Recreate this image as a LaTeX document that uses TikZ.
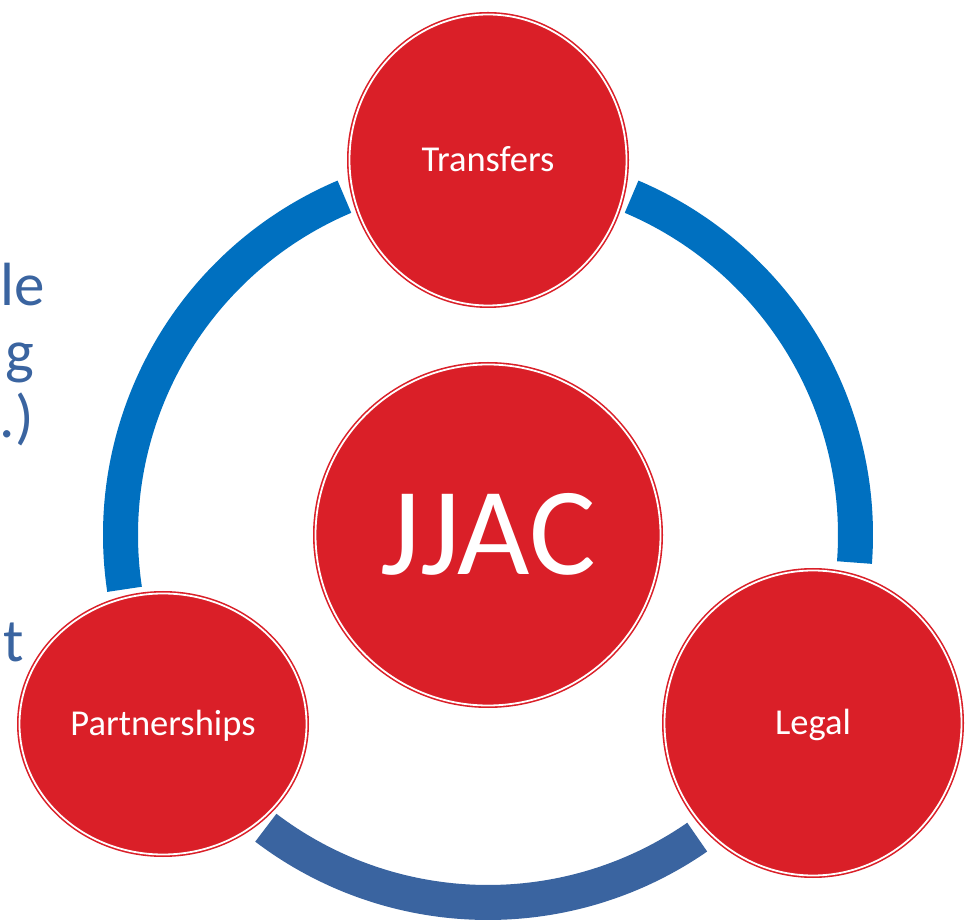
\documentclass[tikz,border=0pt]{standalone}
\usepackage{fontspec}
\setmainfont{Carlito}
\usetikzlibrary{shapes.geometric}
\definecolor{jred}{HTML}{DA1F28}
\definecolor{ringblue}{HTML}{0070C0}
\definecolor{darkblue}{HTML}{3A64A0}
\tikzset{
  bubble/.style={ellipse, fill=jred, draw=jred, double=white, line width=1.6pt,
    double distance=1.8pt, inner sep=0pt, text=white, text depth=0pt},
  smalllabel/.style={font=\fontsize{36.5}{40}\selectfont, text height=23.5pt},
  frag/.style={font=\fontsize{61}{70}\selectfont, text=darkblue, anchor=base east, inner sep=0pt}
}
\begin{document}
\begin{tikzpicture}[x=1pt,y=1pt]
\useasboundingbox (0,0) rectangle (971,921);
\fill[white] (0,0) rectangle (971,921);
% background text fragments
\node[frag] (f1) at (45,615) {le};
\node[frag] (f2) at (34,548) {g};
\node[frag] (f3) at (34,483) {.)};
\node[frag] (f4) at (24,259) {t};
% ring segments
\coordinate (rc) at (488,386);
\fill[ringblue] (rc) ++(113:385) arc[start angle=113,end angle=188.5,radius=385]
  -- ++(188.5:-35) arc[start angle=188.5,end angle=113,radius=350] -- cycle;
\fill[ringblue] (rc) ++(67:385) arc[start angle=67,end angle=-4.3,radius=385]
  -- ++(-4.3:-35) arc[start angle=-4.3,end angle=67,radius=350] -- cycle;
\fill[darkblue] (rc) ++(232.8:385) arc[start angle=232.8,end angle=304.7,radius=385]
  -- ++(304.7:-35) arc[start angle=304.7,end angle=232.8,radius=350] -- cycle;
% circles
\node[bubble, smalllabel, minimum width=277, minimum height=291] (transfers) at (488,761) {Transfers};
\node[bubble, font=\fontsize{125}{130}\selectfont, text height=80pt, minimum width=345, minimum height=341] (jjac) at (488,386) {JJAC};
\node[bubble, smalllabel, minimum width=287, minimum height=261] (partnerships) at (163,197) {Partnerships};
\node[bubble, smalllabel, minimum width=297, minimum height=305] (legal) at (813,198) {Legal};
\end{tikzpicture}
\end{document}
